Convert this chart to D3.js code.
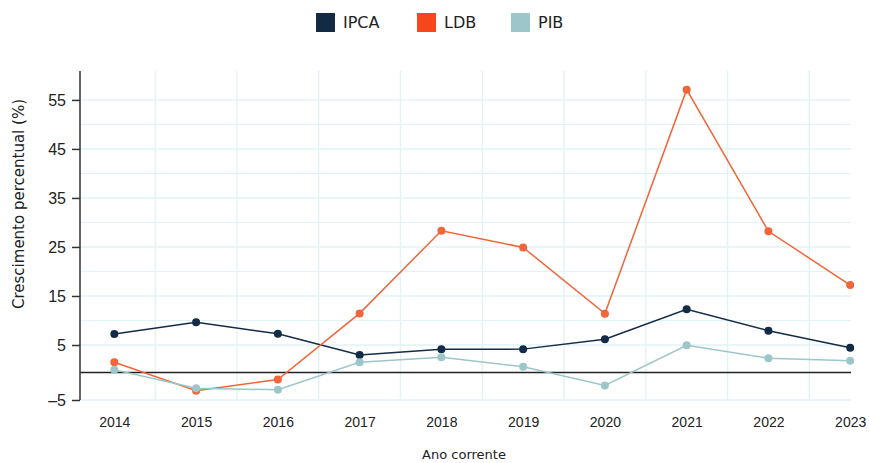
<!DOCTYPE html>
<html lang="pt">
<head>
    <meta charset="UTF-8">
    <title>Crescimento percentual</title>
    <script src="https://d3js.org/d3.v7.min.js"></script>
    <style>
        body { margin: 0; background: #fff; }
        svg { display: block; font-family: "DejaVu Sans", "Noto Sans", sans-serif; }
    </style>
</head>
<body>
    <div id="chart"></div>

    <script>
        const years = [2014, 2015, 2016, 2017, 2018, 2019, 2020, 2021, 2022, 2023];
        const ipca = [7.24, 9.63, 7.3, 3.18, 4.22, 4.25, 6.16, 12.29, 7.92, 4.51];
        const ldb = [1.85, -3.33, -1.27, 11.45, 28.3, 24.9, 11.4, 57.1, 28.2, 17.24];
        const pib = [0.51, -2.85, -3.15, 1.85, 2.76, 1.05, -2.37, 4.95, 2.58, 2.15];
        const yTicks = [-5, 5, 15, 25, 35, 45, 55];
        const yGrid = [-5, 5, 10, 15, 20, 25, 30, 35, 40, 45, 50, 55];
        const xGrid = [2014.5, 2015.5, 2016.5, 2017.5, 2018.5, 2019.5, 2020.5, 2021.5, 2022.5];

        const series = [
            { name: "IPCA", values: ipca, color: "#132b45", swatch: "#132a44" },
            { name: "LDB", values: ldb, color: "#f1653a", swatch: "#f5471b" },
            { name: "PIB", values: pib, color: "#9cc6c9", swatch: "#9cc6c9" }
        ];

        const width = 869, height = 463;
        const plotLeft = 80, plotRight = 851, plotTop = 71, plotBottom = 400;

        const svg = d3.select("#chart").append("svg")
                      .attr("width", width)
                      .attr("height", height);

        const x = d3.scaleLinear().domain([2013.58, 2023.01]).range([plotLeft, plotRight]);
        // the source axis is stretched a little below 5
        const y = d3.scaleLinear().domain([-5, 5, 60.9]).range([plotBottom, 345, plotTop]);

        // grid
        svg.append("g").selectAll("line")
           .data(yGrid).enter().append("line")
           .attr("x1", plotLeft).attr("x2", plotRight)
           .attr("y1", d => y(d)).attr("y2", d => y(d))
           .attr("stroke", "#e2f3f5")
           .attr("stroke-width", d => yTicks.includes(d) ? 1.4 : 1);

        svg.append("g").selectAll("line")
           .data(xGrid).enter().append("line")
           .attr("x1", d => x(d)).attr("x2", d => x(d))
           .attr("y1", plotTop).attr("y2", plotBottom)
           .attr("stroke", "#e2f3f5")
           .attr("stroke-width", 1.4);

        // zero line
        svg.append("line")
           .attr("x1", plotLeft).attr("x2", plotRight)
           .attr("y1", y(0)).attr("y2", y(0))
           .attr("stroke", "#222")
           .attr("stroke-width", 1.5);

        // y axis
        const yAxis = svg.append("g")
           .attr("transform", `translate(${plotLeft},0)`)
           .call(d3.axisLeft(y).tickValues(yTicks).tickSize(8).tickPadding(6).tickFormat(d3.format("d")));
        yAxis.select(".domain").remove();
        yAxis.append("line")
             .attr("x1", 0).attr("x2", 0)
             .attr("y1", plotTop).attr("y2", plotBottom)
             .attr("stroke", "#333").attr("stroke-width", 1.5);
        yAxis.selectAll(".tick line").attr("stroke", "#333").attr("stroke-width", 1.5);
        yAxis.selectAll(".tick text")
             .attr("fill", "#222")
             .style("font-size", "16px")
             .text(d => d < 0 ? "\u2013" + Math.abs(d) : d);

        // x axis labels
        const xAxis = svg.append("g")
           .attr("transform", `translate(0,${plotBottom})`)
           .call(d3.axisBottom(x).tickValues(years).tickSize(0).tickPadding(17).tickFormat(d3.format("d")));
        xAxis.select(".domain").remove();
        xAxis.selectAll(".tick text")
             .attr("fill", "#222")
             .style("font-size", "14px");

        // axis titles
        svg.append("text")
           .attr("x", 464).attr("y", 459)
           .attr("text-anchor", "middle")
           .attr("fill", "#222")
           .style("font-size", "13px")
           .text("Ano corrente");

        svg.append("text")
           .attr("transform", "translate(24,204) rotate(-90)")
           .attr("text-anchor", "middle")
           .attr("fill", "#222")
           .style("font-size", "15px")
           .text("Crescimento percentual (%)");

        // lines and points
        const line = d3.line()
                       .x((d, i) => x(years[i]))
                       .y(d => y(d));

        series.forEach(s => {
            const g = svg.append("g");
            g.append("path")
             .attr("d", line(s.values))
             .attr("fill", "none")
             .attr("stroke", s.color)
             .attr("stroke-width", 1.5);
            g.selectAll("circle")
             .data(s.values).enter().append("circle")
             .attr("cx", (d, i) => x(years[i]))
             .attr("cy", d => y(d))
             .attr("r", 4)
             .attr("fill", s.color);
        });

        // legend
        const legendX = [316, 417, 511];
        const legend = svg.append("g");
        series.forEach((s, i) => {
            legend.append("rect")
                  .attr("x", legendX[i]).attr("y", 13)
                  .attr("width", 19).attr("height", 19)
                  .attr("fill", s.swatch);
            legend.append("text")
                  .attr("x", legendX[i] + 27).attr("y", 28)
                  .attr("fill", "#222")
                  .style("font-size", "16px")
                  .text(s.name);
        });
    </script>
</body>
</html>
